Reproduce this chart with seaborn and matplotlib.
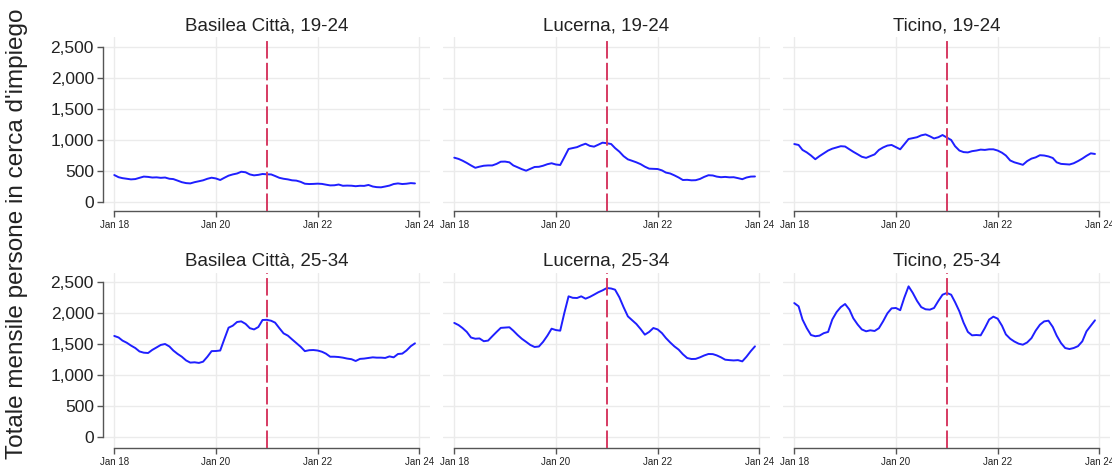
import matplotlib
matplotlib.use("Agg")
import matplotlib.pyplot as plt
import matplotlib.dates as mdates
import seaborn as sns
import pandas as pd
import numpy as np

# ---------------- data (monthly, Jan 2018 - Dec 2023) ----------------
months = pd.date_range("2018-01-01", periods=72, freq="MS")

basilea_19_24 = [435, 400, 385, 375, 365, 370, 390, 410, 405, 395, 398, 390,
                 395, 375, 370, 345, 320, 305, 300, 320, 335, 350, 375, 392,
                 380, 355, 390, 425, 445, 460, 488, 480, 445, 430, 438, 452,
                 447, 445, 420, 390, 375, 365, 350, 345, 325, 295, 290, 292,
                 296, 292, 280, 268, 270, 282, 262, 265, 263, 255, 262, 260,
                 275, 250, 240, 237, 250, 265, 290, 300, 290, 295, 305, 300]
lucerna_19_24 = [715, 695, 667, 630, 590, 552, 570, 585, 590, 590, 615, 650,
                 652, 640, 590, 560, 530, 505, 535, 565, 568, 585, 610, 625,
                 605, 597, 720, 855, 870, 885, 915, 940, 905, 893, 925, 957,
                 948, 935, 870, 812, 740, 688, 665, 640, 610, 570, 538, 535,
                 532, 510, 475, 460, 430, 395, 355, 358, 350, 352, 372, 405,
                 432, 428, 410, 400, 405, 398, 400, 385, 368, 395, 410, 412]
ticino_19_24 = [935, 920, 840, 800, 750, 690, 740, 785, 830, 860, 880, 900,
                895, 850, 810, 770, 730, 712, 740, 768, 840, 880, 910, 920,
                885, 850, 930, 1016, 1030, 1045, 1075, 1090, 1060, 1025, 1045, 1080,
                1040, 1000, 900, 830, 805, 800, 820, 830, 845, 840, 850, 850,
                830, 795, 750, 670, 640, 620, 600, 660, 700, 720, 755, 750,
                735, 710, 640, 615, 610, 605, 625, 660, 700, 745, 785, 775]
basilea_25_34 = [1635, 1610, 1560, 1525, 1480, 1440, 1385, 1365, 1360, 1410, 1450, 1490,
                 1505, 1465, 1400, 1345, 1300, 1240, 1205, 1210, 1200, 1220, 1300, 1390,
                 1392, 1400, 1580, 1768, 1800, 1860, 1870, 1830, 1760, 1740, 1779, 1892,
                 1895, 1880, 1850, 1760, 1677, 1640, 1580, 1520, 1460, 1390, 1405, 1408,
                 1400, 1380, 1350, 1300, 1300, 1295, 1285, 1270, 1260, 1231, 1265, 1270,
                 1280, 1290, 1285, 1285, 1280, 1305, 1290, 1344, 1350, 1400, 1470, 1516]
lucerna_25_34 = [1845, 1810, 1763, 1700, 1610, 1590, 1595, 1550, 1560, 1630, 1700, 1765,
                 1770, 1775, 1720, 1650, 1590, 1540, 1490, 1457, 1465, 1540, 1640, 1752,
                 1730, 1720, 2000, 2274, 2250, 2247, 2274, 2236, 2265, 2301, 2340, 2370,
                 2408, 2400, 2381, 2258, 2100, 1951, 1890, 1828, 1745, 1656, 1700, 1763,
                 1740, 1680, 1602, 1530, 1467, 1414, 1340, 1279, 1263, 1265, 1290, 1320,
                 1344, 1342, 1322, 1290, 1252, 1245, 1240, 1245, 1225, 1300, 1390, 1467]
ticino_25_34 = [2165, 2113, 1900, 1760, 1650, 1630, 1640, 1680, 1700, 1900, 2020, 2100,
                2150, 2060, 1920, 1820, 1740, 1710, 1726, 1715, 1760, 1871, 2000, 2080,
                2086, 2050, 2250, 2435, 2330, 2200, 2100, 2065, 2059, 2086, 2200, 2300,
                2328, 2300, 2180, 2032, 1850, 1700, 1645, 1650, 1645, 1763, 1900, 1946,
                1914, 1800, 1660, 1590, 1545, 1510, 1494, 1530, 1600, 1720, 1817, 1870,
                1881, 1780, 1640, 1520, 1440, 1424, 1440, 1470, 1548, 1709, 1800, 1887]

panel_titles = ["Basilea Città, 19-24", "Lucerna, 19-24", "Ticino, 19-24",
                "Basilea Città, 25-34", "Lucerna, 25-34", "Ticino, 25-34"]
panel_values = [basilea_19_24, lucerna_19_24, ticino_19_24,
                basilea_25_34, lucerna_25_34, ticino_25_34]
y_ticks = [0, 500, 1000, 1500, 2000, 2500]
x_tick_dates = pd.to_datetime(["2018-01-01", "2020-01-01", "2022-01-01", "2024-01-01"])
event_date = pd.Timestamp("2021-01-01")
y_label = "Totale mensile persone in cerca d'impiego"

# ---------------- style ----------------
sns.set_theme(style="white")
plt.rcParams["font.family"] = ["Liberation Sans", "DejaVu Sans"]

W, H = 1112, 466
fig = plt.figure(figsize=(W / 100, H / 100), dpi=100)
fig.patch.set_facecolor("white")

lefts_px = [103, 443, 783]
width_px = 327
rows_px = [(37, 210.7, (-140, 2661)), (272.7, 448.3, (-177, 2655))]

xlim = (pd.Timestamp("2018-01-01") - pd.Timedelta(days=81),
        pd.Timestamp("2024-01-01") + pd.Timedelta(days=77))
xnum = mdates.date2num(x_tick_dates.to_pydatetime())

grid_c = "#ebebeb"
axis_c = "#555555"
text_c = "#222222"

for i, (title, vals) in enumerate(zip(panel_titles, panel_values)):
    r, c = divmod(i, 3)
    top, bot, ylim = rows_px[r]
    ax = fig.add_axes([lefts_px[c] / W, 1 - bot / H, width_px / W, (bot - top) / H])
    ax.set_facecolor("white")
    df = pd.DataFrame({"month": months, "value": vals})
    for t in y_ticks:
        ax.axhline(t, color=grid_c, lw=1.0, zorder=0)
    for d in x_tick_dates:
        ax.axvline(d, color=grid_c, lw=1.0, zorder=0)
    sns.lineplot(data=df, x="month", y="value", ax=ax, color="#1f1fff",
                 lw=1.4, zorder=3)
    ax.axvline(event_date, color="#d63a62", lw=1.4, dashes=(9, 2.2), zorder=4)
    ax.set_xlim(xlim)
    ax.set_ylim(ylim)
    ax.set_xlabel("")
    ax.set_ylabel("")
    ax.set_title(title, fontsize=13.5, color=text_c, pad=5)
    ax.set_xticks(x_tick_dates)
    ax.xaxis.set_major_formatter(mdates.DateFormatter("%b %y"))
    ax.tick_params(axis="x", labelsize=7, colors=text_c, length=4.5,
                   width=1.0, color=axis_c, pad=2, direction="out", bottom=True)
    for s in ["top", "right"]:
        ax.spines[s].set_visible(False)
    ax.spines["bottom"].set_color(axis_c)
    ax.spines["bottom"].set_linewidth(1.0)
    ax.spines["bottom"].set_bounds(xnum[0], xnum[-1])
    ax.set_yticks(y_ticks)
    if c == 0:
        ax.yaxis.set_major_formatter(matplotlib.ticker.FuncFormatter(lambda v, p: f"{int(v):,}"))
        ax.tick_params(axis="y", labelsize=12.5, colors=text_c, length=4.5,
                       width=1.0, color=axis_c, pad=2, left=True)
        ax.spines["left"].set_color(axis_c)
        ax.spines["left"].set_linewidth(1.0)
        ax.spines["left"].set_bounds(0, 2500)
    else:
        ax.spines["left"].set_visible(False)
        ax.tick_params(axis="y", left=False, labelleft=False)
    ax.grid(False)

fig.text(17.5 / W, 1 - 234 / H, y_label, rotation=90, ha="center", va="center",
         fontsize=17.5, color=text_c)

fig.savefig("out.png", dpi=100, facecolor="white")
